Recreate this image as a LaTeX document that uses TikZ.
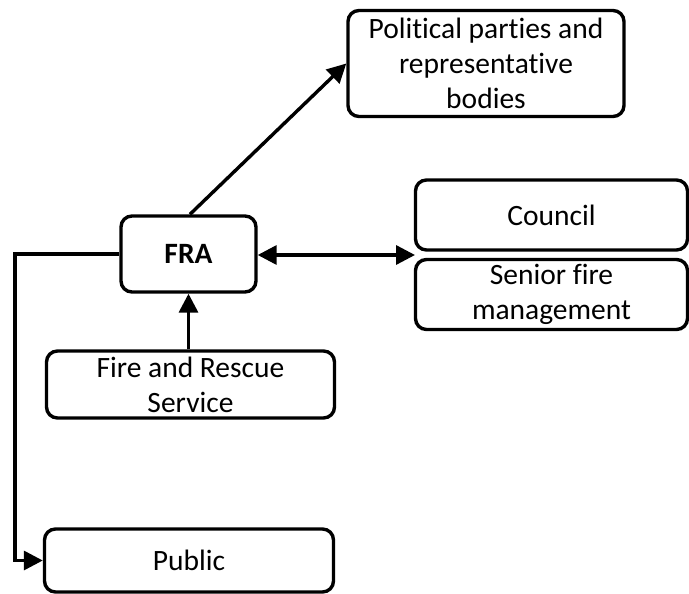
\documentclass[tikz,border=0pt]{standalone}
\usepackage{fontspec}
\setmainfont[Ligatures=NoCommon]{Carlito}
\usetikzlibrary{arrows.meta}
\begin{document}
\begin{tikzpicture}[x=1pt,y=-1pt,
  box/.style={draw,line width=3.4pt,rounded corners=11pt,inner sep=0pt,
    align=center,font=\fontsize{29.5}{35}\selectfont},
  link/.style={line width=3.4pt,-{Triangle[length=19pt,width=19pt]}},
  both/.style={line width=3.4pt,{Triangle[length=19pt,width=19pt]}-{Triangle[length=19pt,width=19pt]}}]
\useasboundingbox (0,0) rectangle (689,594);
% boxes given by their corners
\node[box,minimum width=276pt,minimum height=106pt] (pol) at (486,63.5)
  {Political parties and\\representative\\bodies};
\node[box,minimum width=135pt,minimum height=76pt,font=\fontsize{29.5}{35}\selectfont\bfseries] (fra) at (188.5,254) {FRA};
\node[box,minimum width=272pt,minimum height=70pt] (coun) at (551.5,215) {Council};
\node[box,minimum width=272pt,minimum height=70pt] (sen) at (551.5,294.5) {Senior fire\\management};
\node[box,minimum width=288pt,minimum height=67pt] (frs) at (190.5,384.5) {Fire and Rescue\\Service};
\node[box,minimum width=289pt,minimum height=63pt] (pub) at (189,560.5) {Public};
% connectors
\coordinate (gap) at (415,255);
\draw[link] (fra.north) ++(1.5,0) -- (pol.west);
\draw[both] (fra.east |- gap) -- (gap);
\draw[link] (frs.north -| fra.south) -- (fra.south);
\draw[link] (fra.west) -| (15,560.5) -- (pub.west);
\end{tikzpicture}
\end{document}
